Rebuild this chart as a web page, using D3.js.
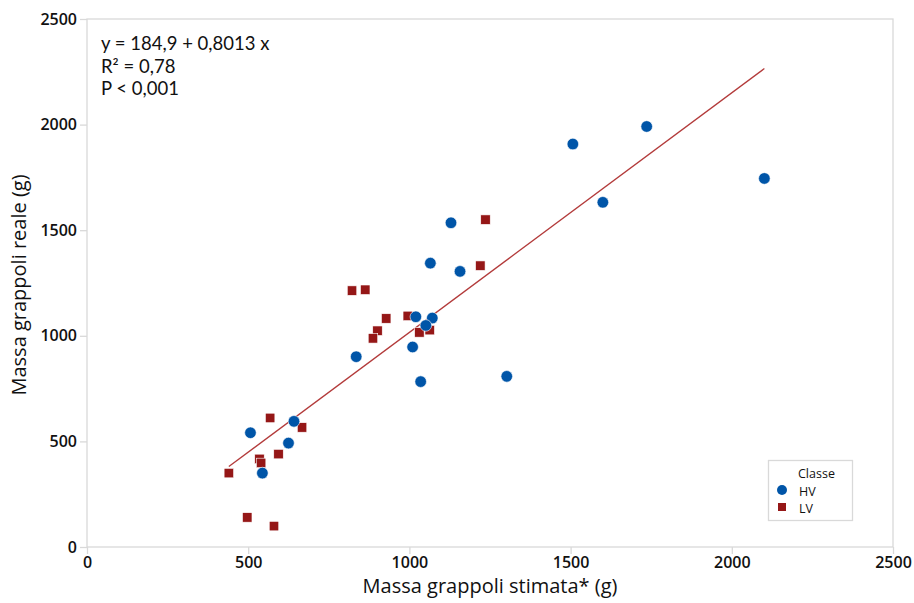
<!DOCTYPE html>
<html>
<head>
<meta charset="utf-8">
<script src="https://cdn.jsdelivr.net/npm/d3@7"></script>
<style>
  html, body { margin: 0; padding: 0; background: #fff; }
  svg { display: block; font-family: "Open Sans", "Noto Sans", sans-serif; }
</style>
</head>
<body>
<svg id="chart" width="914" height="603"></svg>
<script>
// Estimated (x) and measured (y) bunch mass, in grams, per class
const hvEstimated = [507, 642, 625, 544, 1129, 1065, 1157, 1020, 1071, 1051, 1010, 835, 1035, 1302, 1507, 1736, 2101, 1600];
const hvMeasured  = [541, 595, 492, 350, 1535, 1344, 1305, 1090, 1084, 1049, 947, 901, 783, 808, 1908, 1991, 1745, 1632];
const lvEstimated = [440, 568, 667, 594, 535, 540, 497, 580, 1236, 1220, 822, 863, 928, 995, 901, 887, 1031, 1063];
const lvMeasured  = [350, 611, 566, 440, 417, 398, 140, 99, 1550, 1332, 1214, 1218, 1082, 1094, 1024, 988, 1016, 1027];

const axisTicks = [0, 500, 1000, 1500, 2000, 2500];
const classNames = ["HV", "LV"];
const statsLines = ["y = 184,9 + 0,8013 x", "R² = 0,78", "P < 0,001"];

const svg = d3.select("#chart");
const plotLeft = 87, plotRight = 893, plotTop = 19, plotBottom = 547;

const x = d3.scaleLinear().domain([0, 2500]).range([plotLeft, plotRight]);
const y = d3.scaleLinear().domain([0, 2500]).range([plotBottom, plotTop]);

const frameColor = "#d9d9d9";
const blue = "#0055a8";
const red = "#951717";
const lineColor = "#b33b3b";

// Plot frame
svg.append("rect")
  .attr("x", plotLeft).attr("y", plotTop)
  .attr("width", plotRight - plotLeft).attr("height", plotBottom - plotTop)
  .attr("fill", "none").attr("stroke", frameColor).attr("stroke-width", 1.3);

// Axes
const fmt = d3.format("d");
const xAxis = svg.append("g")
  .attr("transform", `translate(0,${plotBottom})`)
  .call(d3.axisBottom(x).tickValues(axisTicks).tickFormat(fmt).tickSize(7).tickPadding(3));
const yAxis = svg.append("g")
  .attr("transform", `translate(${plotLeft},0)`)
  .call(d3.axisLeft(y).tickValues(axisTicks).tickFormat(fmt).tickSize(7).tickPadding(3));
[xAxis, yAxis].forEach(g => {
  g.select(".domain").remove();
  g.selectAll(".tick line").attr("stroke", frameColor).attr("stroke-width", 1.3);
  g.selectAll(".tick text")
    .attr("fill", "#111")
    .style("font-size", "16px")
    .style("font-weight", "600")
    .style("font-family", "'Open Sans', 'Noto Sans', sans-serif");
});

// Axis titles
svg.append("text")
  .attr("x", (plotLeft + plotRight) / 2).attr("y", 593)
  .attr("text-anchor", "middle")
  .style("font-size", "20px").attr("fill", "#111")
  .text("Massa grappoli stimata* (g)");
svg.append("text")
  .attr("transform", `translate(26,${(plotTop + plotBottom) / 2 + 2}) rotate(-90)`)
  .attr("text-anchor", "middle")
  .style("font-size", "20px").attr("fill", "#111")
  .text("Massa grappoli reale (g)");

// Least-squares fit of measured on estimated mass, over the observed range
const allX = hvEstimated.concat(lvEstimated);
const allY = hvMeasured.concat(lvMeasured);
const mx = d3.mean(allX), my = d3.mean(allY);
const sxy = d3.sum(allX, (v, i) => (v - mx) * (allY[i] - my));
const sxx = d3.sum(allX, v => (v - mx) * (v - mx));
const slope = sxy / sxx, intercept = my - slope * mx;
const [xMin, xMax] = d3.extent(allX);
svg.append("path")
  .datum([xMin, xMax])
  .attr("d", d3.line().x(d => x(d)).y(d => y(intercept + slope * d)))
  .attr("stroke", lineColor).attr("stroke-width", 1.3).attr("fill", "none");

// Points
const hv = hvEstimated.map((v, i) => ({ x: v, y: hvMeasured[i] }));
const lv = lvEstimated.map((v, i) => ({ x: v, y: lvMeasured[i] }));
const sq = 9.5;
svg.append("g").selectAll("rect").data(lv).join("rect")
  .attr("x", d => x(d.x) - sq / 2).attr("y", d => y(d.y) - sq / 2)
  .attr("width", sq).attr("height", sq)
  .attr("fill", red).attr("stroke", "#fff").attr("stroke-width", 0.6);
svg.append("g").selectAll("circle").data(hv).join("circle")
  .attr("cx", d => x(d.x)).attr("cy", d => y(d.y)).attr("r", 5.8)
  .attr("fill", blue).attr("stroke", "#fff").attr("stroke-width", 0.6);

// Regression statistics
svg.append("g").selectAll("text").data(statsLines).join("text")
  .attr("x", 101).attr("y", (d, i) => 50 + i * 22.5)
  .style("font-size", "18.5px").style("font-family", "Lato, sans-serif").attr("fill", "#111")
  .text(d => d);

// Legend
const legend = svg.append("g");
legend.append("rect")
  .attr("x", 768.5).attr("y", 460.5).attr("width", 84).attr("height", 60)
  .attr("fill", "#fff").attr("stroke", frameColor).attr("stroke-width", 1.3);
legend.append("text")
  .attr("x", 798).attr("y", 478)
  .style("font-size", "12.5px").attr("fill", "#111").text("Classe");
legend.append("circle").attr("cx", 782).attr("cy", 490).attr("r", 5).attr("fill", blue);
legend.append("rect").attr("x", 778).attr("y", 503).attr("width", 8).attr("height", 8).attr("fill", red);
legend.selectAll("text.item").data(classNames).join("text")
  .attr("class", "item")
  .attr("x", 799).attr("y", (d, i) => 495.5 + i * 17.5)
  .style("font-size", "12.5px").attr("fill", "#111")
  .text(d => d);
</script>
</body>
</html>
